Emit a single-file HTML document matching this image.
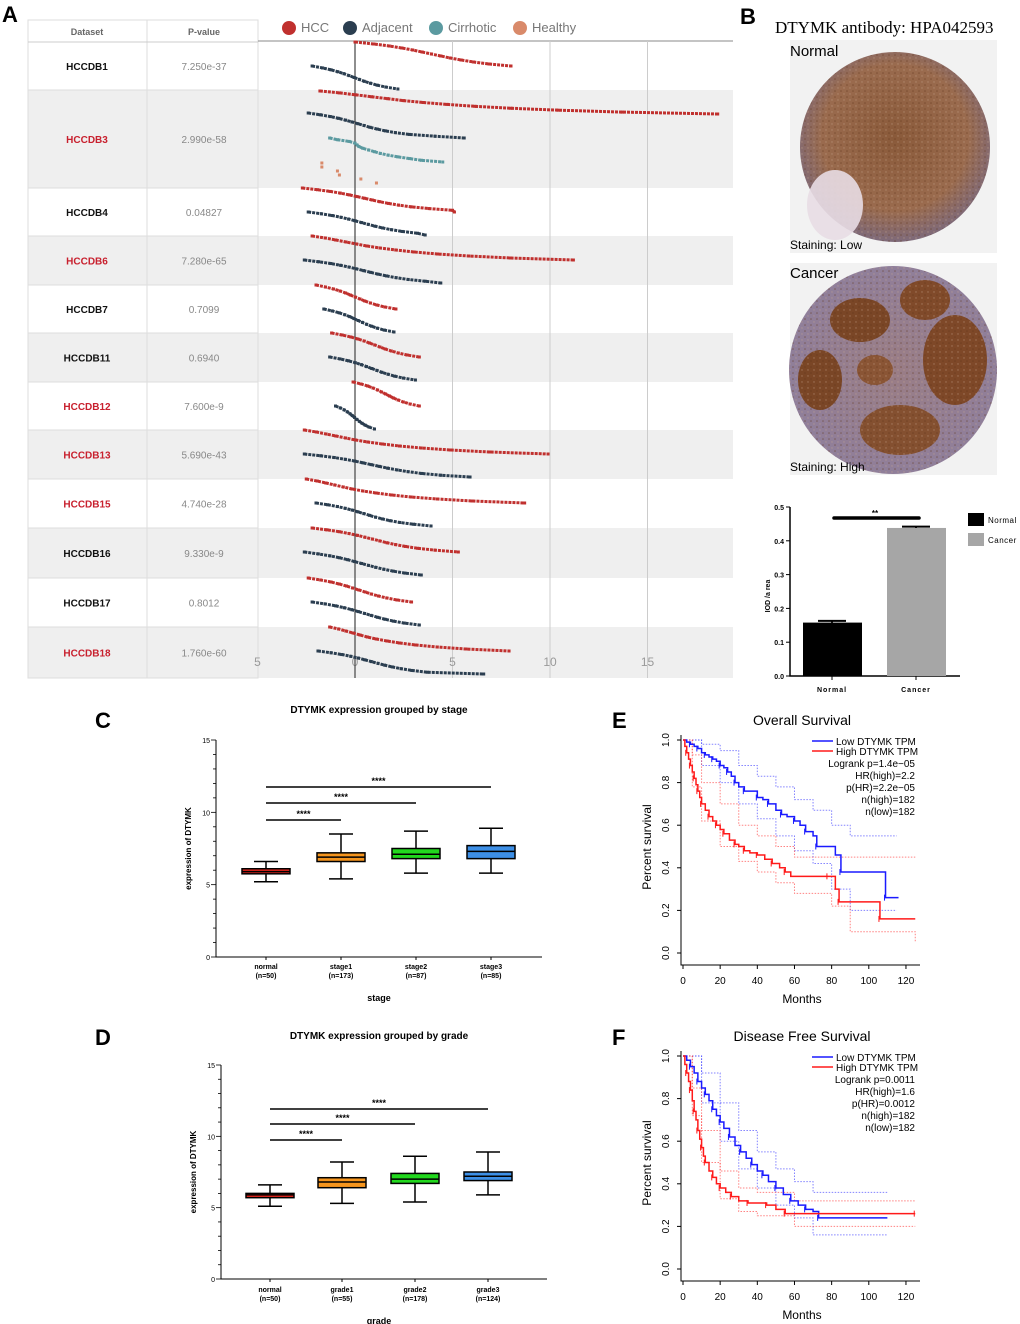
<!DOCTYPE html>
<html><head><meta charset="utf-8">
<style>
body{margin:0;background:#fff;}
svg{display:block;font-family:"Liberation Sans",Arial,sans-serif;}
</style></head>
<body>
<svg id="fig" width="1020" height="1324" viewBox="0 0 1020 1324" xmlns="http://www.w3.org/2000/svg">
<defs>
<radialGradient id="gN" cx="50%" cy="45%" r="55%">
<stop offset="0" stop-color="#8a5a3a"/><stop offset="0.7" stop-color="#9a6b4e"/><stop offset="1" stop-color="#7e6a7a"/></radialGradient>
<radialGradient id="gC" cx="50%" cy="50%" r="55%">
<stop offset="0" stop-color="#9a7d85"/><stop offset="1" stop-color="#8f7f9c"/></radialGradient>
<pattern id="speck" width="6" height="6" patternUnits="userSpaceOnUse">
<circle cx="1" cy="1" r="0.8" fill="#5e3218" opacity="0.5"/><circle cx="4" cy="4" r="0.7" fill="#c8a890" opacity="0.5"/></pattern>
</defs>

<text x="2" y="22" font-size="22" font-weight="bold">A</text>
<text x="740" y="24" font-size="22" font-weight="bold">B</text>
<text x="95" y="728" font-size="22" font-weight="bold">C</text>
<text x="95" y="1045" font-size="22" font-weight="bold">D</text>
<text x="612" y="728" font-size="22" font-weight="bold">E</text>
<text x="612" y="1045" font-size="22" font-weight="bold">F</text>

<g id="panelA"></g>

<g>
<text x="775" y="33" font-family="Liberation Serif,serif" font-size="17">DTYMK antibody:  HPA042593</text>
<rect x="790" y="40" width="207" height="213" fill="#f2f2f2"/>
<circle cx="895" cy="147" r="95" fill="url(#gN)"/>
<circle cx="895" cy="147" r="95" fill="url(#speck)"/>
<ellipse cx="835" cy="205" rx="28" ry="35" fill="#e8dde4" opacity="0.9"/>
<text x="790" y="56" font-size="15">Normal</text>
<text x="790" y="249" font-size="12">Staining: Low</text>
<rect x="790" y="263" width="207" height="212" fill="#f2f2f2"/>
<circle cx="893" cy="370" r="104" fill="url(#gC)"/>
<ellipse cx="860" cy="320" rx="30" ry="22" fill="#7a4626"/>
<ellipse cx="955" cy="360" rx="32" ry="45" fill="#7e4828"/>
<ellipse cx="820" cy="380" rx="22" ry="30" fill="#7a4626"/>
<ellipse cx="900" cy="430" rx="40" ry="25" fill="#845030"/>
<ellipse cx="925" cy="300" rx="25" ry="20" fill="#804a2a"/>
<ellipse cx="875" cy="370" rx="18" ry="15" fill="#8a5535"/>
<circle cx="893" cy="370" r="104" fill="url(#speck)"/>
<text x="790" y="278" font-size="15">Cancer</text>
<text x="790" y="471" font-size="12">Staining: High</text>
</g>
<g id="panelB"></g>
<g id="panelC"></g>
<g id="panelD"></g>
<g id="panelE"></g>
<g id="panelF"></g>
</svg>
<script>
// ---------- Panel A data ----------
const datasets = ["HCCDB1","HCCDB3","HCCDB4","HCCDB6","HCCDB7","HCCDB11","HCCDB12","HCCDB13","HCCDB15","HCCDB16","HCCDB17","HCCDB18"];
const pvalues = ["7.250e-37","2.990e-58","0.04827","7.280e-65","0.7099","0.6940","7.600e-9","5.690e-43","4.740e-28","9.330e-9","0.8012","1.760e-60"];
const significant = [false,true,false,true,false,false,true,true,true,false,false,true];
const hccValues = [
 [0,0.96,1.76,2.4,2.96,3.44,3.92,4.4,4.88,5.44,6.08,6.88,8],
 [-1.8,-0.78,0.04,0.85,1.67,2.48,3.5,4.73,6.16,8,10.4,13.7,18.6],
 [-2.7,-1.92,-1.27,-0.75,-0.3,0.1,0.49,0.88,1.27,1.72,2.24,2.89,3.8,5,5.1],
 [-2.2,-1.53,-0.99,-0.46,0.08,0.61,1.28,2.09,3.03,4.23,5.84,7.98,11.2],
 [-2,-1.51,-1.1,-0.77,-0.48,-0.24,0.01,0.26,0.5,0.79,1.12,1.53,2.1],
 [-1.2,-0.66,-0.21,0.15,0.47,0.74,1.01,1.28,1.55,1.86,2.22,2.67,3.3],
 [-0.1,0.31,0.65,0.92,1.16,1.36,1.57,1.77,1.97,2.21,2.48,2.82,3.3],
 [-2.6,-1.98,-1.48,-0.98,-0.48,0.03,0.65,1.4,2.28,3.4,4.9,6.9,9.9],
 [-2.5,-1.94,-1.49,-1.04,-0.6,-0.15,0.41,1.08,1.87,2.88,4.22,6.01,8.7],
 [-2.2,-1.44,-0.81,-0.31,0.13,0.51,0.89,1.27,1.64,2.08,2.59,3.22,4.1,5.3],
 [-2.4,-1.76,-1.23,-0.81,-0.44,-0.12,0.2,0.52,0.83,1.2,1.63,2.16,2.9],
 [-1.3,-0.84,-0.47,-0.1,0.26,0.63,1.09,1.64,2.29,3.12,4.22,5.69,7.9]];
const adjValues = [
 [-2.2,-1.67,-1.23,-0.88,-0.57,-0.31,-0.04,0.22,0.48,0.79,1.14,1.58,2.2],
 [-2.4,-1.78,-1.26,-0.84,-0.48,-0.16,0.15,0.46,0.77,1.14,1.55,2.07,2.8,4.1,5.6],
 [-2.4,-1.73,-1.17,-0.72,-0.33,0.01,0.34,0.68,1.02,1.41,1.86,2.42,3.2,3.6],
 [-2.6,-1.86,-1.24,-0.74,-0.31,0.07,0.44,0.81,1.18,1.62,2.11,2.73,3.6,4.4],
 [-1.6,-1.17,-0.81,-0.52,-0.27,-0.05,0.16,0.38,0.6,0.85,1.14,1.5,2],
 [-1.3,-0.77,-0.33,0.02,0.33,0.59,0.86,1.12,1.38,1.69,2.04,2.48,3.1],
 [-1,-0.76,-0.56,-0.4,-0.26,-0.14,-0.02,0.1,0.22,0.36,0.52,0.72,1],
 [-2.6,-1.76,-1.06,-0.5,-0.01,0.41,0.83,1.25,1.67,2.16,2.72,3.42,4.4,5.9],
 [-2,-1.4,-0.9,-0.5,-0.15,0.15,0.45,0.75,1.05,1.4,1.8,2.3,3,3.9],
 [-2.6,-1.88,-1.28,-0.8,-0.38,-0.02,0.34,0.7,1.06,1.48,1.96,2.56,3.4],
 [-2.2,-1.54,-0.99,-0.55,-0.17,0.17,0.5,0.83,1.16,1.54,1.98,2.53,3.3],
 [-1.9,-1.23,-0.67,-0.22,0.17,0.51,0.84,1.18,1.52,1.91,2.36,2.92,3.7,6.6]];
const cirrhoticValues = [-1.3,-0.9,-0.3,0,0.1,0.2,0.4,0.7,1,1.3,1.7,2.2,2.8,3.4,4.5];
const healthyValues = [-1.7,-1.7,-0.9,-0.8,0.3,1.1];
const xTicksA = [-5,0,5,10,15];
const xTickLabelsA = ["5","0","5","10","15"];

// ---------- Panel B data ----------
const barGroups = ["Normal","Cancer"];
const barValues = [0.158,0.438];
const barErrors = [0.005,0.004];
const yTicksB = [0,0.1,0.2,0.3,0.4,0.5];

// ---------- Panel C/D data ----------
const stageCats = ["normal","stage1","stage2","stage3"];
const stageNs = ["(n=50)","(n=173)","(n=87)","(n=85)"];
const stageStats = [[5.2,5.75,5.9,6.1,6.6],[5.4,6.6,6.9,7.2,8.5],[5.8,6.8,7.1,7.5,8.7],[5.8,6.8,7.3,7.7,8.9]];
const gradeCats = ["normal","grade1","grade2","grade3"];
const gradeNs = ["(n=50)","(n=55)","(n=178)","(n=124)"];
const gradeStats = [[5.1,5.7,5.9,6.0,6.6],[5.3,6.4,6.8,7.1,8.2],[5.4,6.7,7.0,7.4,8.6],[5.9,6.9,7.2,7.5,8.9]];
const boxColors = ["#e8251c","#f5951e","#22d81e","#3d8fe6"];
const boxTicks = [0,5,10,15];

// ---------- Panel E/F data ----------
const osLowM = [0,2,4,6,8,10,12,14,16,18,20,22,24,26,28,30,33,36,40,43,46,50,53,56,60,63,66,70,72,82,85,108,109,116];
const osLowS = [1,.99,.98,.97,.96,.94,.93,.92,.91,.9,.88,.87,.85,.83,.8,.78,.76,.76,.73,.72,.7,.67,.65,.64,.62,.6,.57,.55,.5,.46,.38,.38,.26,.26];
const osHighM = [0,1,2,3,4,5,6,7,8,9,10,12,14,16,18,20,22,25,28,30,33,36,40,44,48,52,55,58,78,82,84,105,106,125];
const osHighS = [1,.97,.94,.91,.88,.85,.82,.79,.76,.73,.7,.67,.64,.62,.6,.58,.56,.53,.51,.5,.48,.47,.46,.44,.42,.4,.38,.36,.36,.3,.24,.24,.16,.16];
const osLowUpM = [0,10,20,30,40,50,60,70,80,90,115];
const osLowUpS = [1,0.98,0.95,0.88,0.83,0.78,0.72,0.67,0.6,0.55,0.55];
const osLowLoM = [0,10,20,30,40,50,60,70,80,90,115];
const osLowLoS = [1,0.88,0.8,0.7,0.63,0.55,0.48,0.42,0.3,0.2,0.2];
const osHighUpM = [0,5,10,20,30,40,50,60,80,90,125];
const osHighUpS = [1,0.93,0.8,0.7,0.6,0.55,0.5,0.45,0.45,0.45,0.45];
const osHighLoM = [0,5,10,20,30,40,50,60,80,90,125];
const osHighLoS = [1,0.78,0.62,0.5,0.43,0.38,0.33,0.28,0.22,0.1,0.05];
const dfsLowM = [0,2,4,6,8,10,12,14,16,18,20,22,25,28,31,34,37,40,43,46,50,54,58,62,66,70,73,110];
const dfsLowS = [1,.98,.95,.92,.88,.85,.82,.79,.75,.72,.69,.66,.62,.58,.55,.52,.49,.46,.44,.41,.38,.35,.32,.3,.28,.27,.24,.24];
const dfsHighM = [0,1,2,3,4,5,6,7,8,9,10,11,12,14,16,18,20,23,26,30,35,40,45,50,55,60,125];
const dfsHighS = [1,.96,.92,.88,.84,.79,.74,.7,.65,.61,.57,.53,.5,.46,.43,.4,.38,.36,.34,.32,.31,.31,.3,.28,.26,.26,.26];
const dfsLowUpM = [0,10,20,30,40,50,60,70,110];
const dfsLowUpS = [1,0.92,0.78,0.65,0.55,0.47,0.41,0.36,0.36];
const dfsLowLoM = [0,10,20,30,40,50,60,70,110];
const dfsLowLoS = [1,0.78,0.6,0.47,0.38,0.3,0.24,0.16,0.16];
const dfsHighUpM = [0,5,10,20,30,40,60,125];
const dfsHighUpS = [1,0.85,0.65,0.46,0.38,0.36,0.32,0.32];
const dfsHighLoM = [0,5,10,20,30,40,60,125];
const dfsHighLoS = [1,0.72,0.5,0.33,0.27,0.25,0.2,0.2];
const kmXTicks = [0,20,40,60,80,100,120];
const kmYTicks = [0,0.2,0.4,0.6,0.8,1.0];

const NS="http://www.w3.org/2000/svg";
function mk(parent,tag,attrs,text){const e=document.createElementNS(NS,tag);for(const k in attrs)e.setAttribute(k,attrs[k]);if(text!==undefined)e.textContent=text;parent.appendChild(e);return e;}

// ================= Panel A =================
(function(){
 const g=document.getElementById('panelA');
 const xA=v=>355+v*19.5;
 const rowTops=[42,90,188,236,285,333,382,430,479,528,578,627,678];
 datasets.forEach((d,i)=>{
  if(i%2===1){const r=mk(g,'rect',{x:28,y:rowTops[i],width:705,height:rowTops[i+1]-rowTops[i],fill:'#efefef'});
   
   }
 });
 const tb=mk(g,'rect',{x:28,y:20,width:230,height:658,fill:'none',stroke:'#ddd'});
 
 
 mk(g,'line',{x1:147,y1:20,x2:147,y2:678,stroke:'#ddd'});
 mk(g,'line',{x1:28,y1:42,x2:258,y2:42,stroke:'#ccc'});
 const h1=mk(g,'text',{x:87,y:35,'font-size':9,'font-weight':'bold',fill:'#666','text-anchor':'middle'},'Dataset');
 
 
 const h2=mk(g,'text',{x:204,y:35,'font-size':9,'font-weight':'bold',fill:'#666','text-anchor':'middle'},'P-value');
 
 
 datasets.forEach((d,i)=>{
  const cy=(rowTops[i]+rowTops[i+1])/2+4;
  mk(g,'line',{x1:28,y1:rowTops[i+1],x2:258,y2:rowTops[i+1],stroke:'#ddd'});
  const t=mk(g,'text',{x:87,y:cy,'font-size':10,'font-weight':'bold',fill:significant[i]?'#c8202e':'#111','text-anchor':'middle'},d);
  
  
  const p=mk(g,'text',{x:204,y:cy,'font-size':10,fill:'#888','text-anchor':'middle'},pvalues[i]);
  
  
 });
 mk(g,'line',{x1:258,y1:41,x2:733,y2:41,stroke:'#888'});
 xTicksA.forEach((v,i)=>{
  if(v>0){const l=mk(g,'line',{x1:xA(v),y1:41,x2:xA(v),y2:678,stroke:'#ccc'});
   
   }
  const t=mk(g,'text',{x:xA(v),y:666,'font-size':12,fill:'#999','text-anchor':'middle'},xTickLabelsA[i]);
  
  
 });
 const z=mk(g,'line',{x1:xA(0),y1:41,x2:xA(0),y2:678,stroke:'#444','stroke-width':1.2});
 
 
 function curve(vals,y0,y1,color,name,dense){
  const n=vals.length;
  const pts=vals.map((v,k)=>[xA(v),y0+(y1-y0)*k/(n-1)]);
  const pl=mk(g,'polyline',{points:pts.map(p=>p.join(',')).join(' '),fill:'none',stroke:color,'stroke-width':dense?3:0,'stroke-dasharray':'3,1'});
  
  
  pts.forEach(p=>{const c=mk(g,'rect',{x:p[0]-1.5,y:p[1]-1.5,width:3,height:3,fill:color});
   
   });
 }
 datasets.forEach((d,i)=>{
  const top=rowTops[i];
  if(i===1){
   curve(hccValues[i],top+1,top+24,'#c0302e','hcc-curve',true);
   curve(adjValues[i],top+23,top+48,'#2b3e50','adjacent-curve',true);
   curve(cirrhoticValues,top+48,top+72,'#5b9aa0','cirrhotic-curve',true);
   curve(healthyValues,top+73,top+93,'#d98a6a','healthy-curve',false);
  } else {
   curve(hccValues[i],top,top+24,'#c0302e','hcc-curve',true);
   curve(adjValues[i],top+24,top+47,'#2b3e50','adjacent-curve',true);
  }
 });
 const leg=[['HCC','#c0302e',289],['Adjacent','#2b3e50',350],['Cirrhotic','#5b9aa0',436],['Healthy','#d98a6a',520]];
 leg.forEach(l=>{
  const c=mk(g,'circle',{cx:l[2],cy:28,r:7,fill:l[1]});
  
  
  const t=mk(g,'text',{x:l[2]+12,y:32,'font-size':13,fill:'#777'},l[0]);
  
  
 });
})();

// ================= Panel B bar chart =================
(function(){
 const g=document.getElementById('panelB');
 const y=v=>676-v*338;
 const xs=[832,916];
 const ax=mk(g,'path',{d:'M790,507 V676 H960',fill:'none',stroke:'#000','stroke-width':1.5});
 
 
 yTicksB.forEach(v=>{
  mk(g,'line',{x1:786,y1:y(v),x2:790,y2:y(v),stroke:'#000'});
  const t=mk(g,'text',{x:784,y:y(v)+3,'font-size':7,'font-weight':'bold','text-anchor':'end'},v.toFixed(1));
  
  
 });
 const yl=mk(g,'text',{transform:'translate(770,596) rotate(-90)','font-size':7,'font-weight':'bold','text-anchor':'middle'},'IOD /a rea');
 
 
 const cols=['#000','#a6a6a6'];
 barGroups.forEach((b,i)=>{
  const r=mk(g,'rect',{x:xs[i]-29,y:y(barValues[i]),width:59,height:676-y(barValues[i]),fill:cols[i]});
  
  
  mk(g,'line',{x1:xs[i]-14,y1:y(barValues[i]+barErrors[i]),x2:xs[i]+14,y2:y(barValues[i]+barErrors[i]),stroke:'#000','stroke-width':2});
  mk(g,'line',{x1:xs[i],y1:y(barValues[i]),x2:xs[i],y2:y(barValues[i]+barErrors[i]),stroke:'#000','stroke-width':2});
  mk(g,'line',{x1:xs[i],y1:676,x2:xs[i],y2:680,stroke:'#000'});
  const t=mk(g,'text',{x:xs[i],y:692,'font-size':7,'font-weight':'bold','text-anchor':'middle','letter-spacing':1},b);
  
  
  const lr=mk(g,'rect',{x:968,y:513+i*20,width:16,height:13,fill:cols[i]});
  
  
  const lt=mk(g,'text',{x:988,y:523+i*20,'font-size':8,'letter-spacing':0.5},b);
  
  
 });
 const s=mk(g,'line',{x1:834,y1:518,x2:919,y2:518,stroke:'#000','stroke-width':3.5,'stroke-linecap':'round'});
 
 
 mk(g,'text',{x:875,y:516,'font-size':8,'font-weight':'bold','text-anchor':'middle'},'**');
})();

// ================= Panel C/D boxplots =================
function boxplot(gid,title,cats,ns,stats,xlabel,x0,yZero,yTop,xPositions,brackY,titleY,labY){
 const g=document.getElementById(gid);
 const k=(yZero-yTop)/15;
 const y=v=>yZero-v*k;
 const t=mk(g,'text',{x:379,y:titleY,'font-size':10,'font-weight':'bold','text-anchor':'middle'},title);
 
 
 const ax=mk(g,'path',{d:`M${x0},${yTop} V${yZero} H${x0+326}`,fill:'none',stroke:'#000','stroke-width':1});
 
 
 for(let v=0;v<=15;v++){mk(g,'line',{x1:x0-(v%5?3:5),y1:y(v),x2:x0,y2:y(v),stroke:'#000','stroke-width':0.8});}
 boxTicks.forEach(v=>{
  const tt=mk(g,'text',{x:x0-6,y:y(v)+3,'font-size':7,'text-anchor':'end'},String(v));
  
  
 });
 const yl=mk(g,'text',{transform:`translate(${x0-25},${(yZero+yTop)/2}) rotate(-90)`,'font-size':8,'font-weight':'bold','text-anchor':'middle'},'expression of DTYMK');
 
 
 const xl=mk(g,'text',{x:379,y:labY+32,'font-size':9,'font-weight':'bold','text-anchor':'middle'},xlabel);
 
 
 cats.forEach((c,i)=>{
  const cx=xPositions[i],s=stats[i],w=48;
  mk(g,'line',{x1:cx,y1:y(s[0]),x2:cx,y2:y(s[4]),stroke:'#000','stroke-width':1.5});
  mk(g,'line',{x1:cx-12,y1:y(s[0]),x2:cx+12,y2:y(s[0]),stroke:'#000','stroke-width':1.5});
  mk(g,'line',{x1:cx-12,y1:y(s[4]),x2:cx+12,y2:y(s[4]),stroke:'#000','stroke-width':1.5});
  const b=mk(g,'rect',{x:cx-w/2,y:y(s[3]),width:w,height:y(s[1])-y(s[3]),fill:boxColors[i],stroke:'#000','stroke-width':1.5});
  
  
  mk(g,'line',{x1:cx-w/2,y1:y(s[2]),x2:cx+w/2,y2:y(s[2]),stroke:'#000','stroke-width':1.5});
  mk(g,'line',{x1:cx,y1:yZero,x2:cx,y2:yZero+3,stroke:'#000'});
  const a=mk(g,'text',{x:cx,y:labY,'font-size':7,'font-weight':'bold','text-anchor':'middle'},c);
  
  
  mk(g,'text',{x:cx,y:labY+9,'font-size':7,'font-weight':'bold','text-anchor':'middle'},ns[i]);
 });
 [1,2,3].forEach((j,idx)=>{
  const by=brackY[idx];
  const l=mk(g,'line',{x1:xPositions[0],y1:by,x2:xPositions[j],y2:by,stroke:'#000','stroke-width':1.5});
  
  
  mk(g,'text',{x:(xPositions[0]+xPositions[j])/2,y:by-3,'font-size':9,'font-weight':'bold','text-anchor':'middle'},'****');
 });
}
boxplot('panelC','DTYMK expression grouped by stage',stageCats,stageNs,stageStats,'stage',216,957,740,[266,341,416,491],[820,803,787],713,969);
boxplot('panelD','DTYMK expression grouped by grade',gradeCats,gradeNs,gradeStats,'grade',221,1279,1065,[270,342,415,488],[1140,1124,1109],1039,1292);

// ================= Panel E/F KM =================
function km(gid,title,top,lowM,lowS,highM,highS,bands,stats){
 const g=document.getElementById(gid);
 const yZ=top+213;
 const x=m=>683+m*1.858, y=s=>yZ-s*213;
 const tt=mk(g,'text',{x:802,y:top-15,'font-size':14,'text-anchor':'middle'},title);
 
 
 const ax=mk(g,'path',{d:`M681,${top-5} V${yZ+12} H920`,fill:'none',stroke:'#000','stroke-width':1});
 
 
 kmXTicks.forEach(m=>{
  mk(g,'line',{x1:x(m),y1:yZ+12,x2:x(m),y2:yZ+16,stroke:'#000'});
  const t=mk(g,'text',{x:x(m),y:yZ+31,'font-size':10,'text-anchor':'middle'},String(m));
  
  
 });
 kmYTicks.forEach(s=>{
  mk(g,'line',{x1:677,y1:y(s),x2:681,y2:y(s),stroke:'#000'});
  const t=mk(g,'text',{transform:`translate(669,${y(s)}) rotate(-90)`,'font-size':10,'text-anchor':'middle'},s.toFixed(1));
  
  
 });
 const yl=mk(g,'text',{transform:`translate(651,${top+107}) rotate(-90)`,'font-size':12,'text-anchor':'middle'},'Percent survival');
 
 
 const xl=mk(g,'text',{x:802,y:yZ+50,'font-size':12,'text-anchor':'middle'},'Months');
 
 
 function step(M,S,color,dash,w,name){
  let d=`M${x(M[0])},${y(S[0])}`;
  for(let i=1;i<M.length;i++){d+=` H${x(M[i])} V${y(S[i])}`;}
  const p=mk(g,'path',{d:d,fill:'none',stroke:color,'stroke-width':w,'stroke-dasharray':dash||'none',opacity:dash?0.6:1});
  
  
  if(!dash){for(let i=2;i<M.length;i+=2){mk(g,'line',{x1:x(M[i])-1,y1:y(S[i])-3,x2:x(M[i])-1,y2:y(S[i])+3,stroke:color,'stroke-width':1});}}
 }
 step(bands[0],bands[1],'#3030ff','1.5,1.5',1,'low-ci-upper');
 step(bands[2],bands[3],'#3030ff','1.5,1.5',1,'low-ci-lower');
 step(bands[4],bands[5],'#ff3030','1.5,1.5',1,'high-ci-upper');
 step(bands[6],bands[7],'#ff3030','1.5,1.5',1,'high-ci-lower');
 step(lowM,lowS,'#1a1aff',null,1.5,'low-dtymk-curve');
 step(highM,highS,'#ff1a1a',null,1.5,'high-dtymk-curve');
 const l1=mk(g,'line',{x1:812,y1:top+1,x2:833,y2:top+1,stroke:'#1a1aff','stroke-width':1.5});
 
 
 mk(g,'text',{x:836,y:top+5,'font-size':10},'Low DTYMK TPM');
 const l2=mk(g,'line',{x1:812,y1:top+11,x2:833,y2:top+11,stroke:'#ff1a1a','stroke-width':1.5});
 
 
 mk(g,'text',{x:836,y:top+15,'font-size':10},'High DTYMK TPM');
 stats.forEach((s,i)=>{
  const t=mk(g,'text',{x:915,y:top+27+i*12,'font-size':10,'text-anchor':'end'},s);
  
  
 });
}
km('panelE','Overall Survival',740,osLowM,osLowS,osHighM,osHighS,[osLowUpM,osLowUpS,osLowLoM,osLowLoS,osHighUpM,osHighUpS,osHighLoM,osHighLoS],['Logrank p=1.4e\u221205','HR(high)=2.2','p(HR)=2.2e\u221205','n(high)=182','n(low)=182']);
km('panelF','Disease Free Survival',1056,dfsLowM,dfsLowS,dfsHighM,dfsHighS,[dfsLowUpM,dfsLowUpS,dfsLowLoM,dfsLowLoS,dfsHighUpM,dfsHighUpS,dfsHighLoM,dfsHighLoS],['Logrank p=0.0011','HR(high)=1.6','p(HR)=0.0012','n(high)=182','n(low)=182']);
</script>
</body></html>
